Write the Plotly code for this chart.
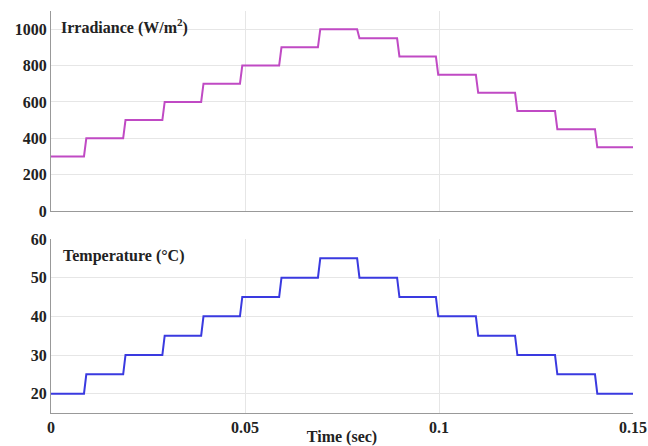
import plotly.graph_objects as go

# transition times (s) and step levels
step_times = [0.0085, 0.0186, 0.0287, 0.0387, 0.0487, 0.0588, 0.0688, 0.0789,
              0.0892, 0.0992, 0.1095, 0.1196, 0.1299, 0.1402]
irradiance_levels = [300, 400, 500, 600, 700, 800, 900, 1000, 950, 850, 750, 650, 550, 450, 350]
temperature_levels = [20, 25, 30, 35, 40, 45, 50, 55, 50, 45, 40, 35, 30, 25, 20]
x_ticks = [0, 0.05, 0.1, 0.15]
x_tick_labels = ["0", "0.05", "0.1", "0.15"]
irr_ticks = [0, 200, 400, 600, 800, 1000]
temp_ticks = [20, 30, 40, 50, 60]
t_start, t_end = 0.0, 0.15
ramp = 0.0006

def stair(levels):
    xs, ys = [t_start], [levels[0]]
    for i, t in enumerate(step_times):
        xs += [t, t + ramp]
        ys += [levels[i], levels[i + 1]]
    xs.append(t_end)
    ys.append(levels[-1])
    return xs, ys

H = 446
fig = go.Figure()
xi, yi = stair(irradiance_levels)
xt, yt = stair(temperature_levels)
fig.add_trace(go.Scatter(x=xi, y=yi, mode="lines", line=dict(color="#c04ac4", width=2),
                         xaxis="x", yaxis="y", showlegend=False))
fig.add_trace(go.Scatter(x=xt, y=yt, mode="lines", line=dict(color="#3a3ae0", width=2),
                         xaxis="x2", yaxis="y2", showlegend=False))

font = dict(family="Liberation Serif", size=16, color="#222")
common_x = dict(range=[0, 0.15], showgrid=True, gridcolor="#e6e6e6", gridwidth=1,
                showline=True, linecolor="#999", linewidth=1, zeroline=False,
                tickvals=x_ticks, ticks="", tickfont=font, automargin=False)
common_y = dict(showgrid=True, gridcolor="#e6e6e6", gridwidth=1, showline=True,
                linecolor="#999", linewidth=1, zeroline=False, ticks="", tickfont=font,
                automargin=False)

fig.update_layout(
    width=648, height=446,
    margin=dict(l=51, r=15, t=0, b=0),
    plot_bgcolor="white", paper_bgcolor="white",
    xaxis=dict(common_x, domain=[0, 1], anchor="y", showticklabels=False),
    yaxis=dict(common_y, domain=[1 - 211 / H, 1 - 11 / H], range=[0, 1100],
               tickvals=irr_ticks, ticktext=["<b>%d</b>" % v for v in irr_ticks]),
    xaxis2=dict(common_x, domain=[0, 1], anchor="y2",
                ticktext=["<b>%s</b>" % s for s in x_tick_labels],
                title=dict(text="<b>Time (sec)</b>", font=font, standoff=0)),
    yaxis2=dict(common_y, domain=[1 - 413 / H, 1 - 239 / H], range=[15, 60],
                tickvals=temp_ticks, ticktext=["<b>%d</b>" % v for v in temp_ticks]),
    annotations=[
        dict(text="<b>Irradiance (W/m<sup>2</sup>)</b>", xref="paper", yref="paper",
             x=0.013, y=1 - 27 / H, xanchor="left", yanchor="middle", showarrow=False,
             font=font),
        dict(text="<b>Temperature (°C)</b>", xref="paper", yref="paper",
             x=0.017, y=1 - 256 / H, xanchor="left", yanchor="middle", showarrow=False,
             font=font),
    ],
)
fig.write_html("out.html", config={"displayModeBar": False},
               post_script="document.body.style.margin='0';")
